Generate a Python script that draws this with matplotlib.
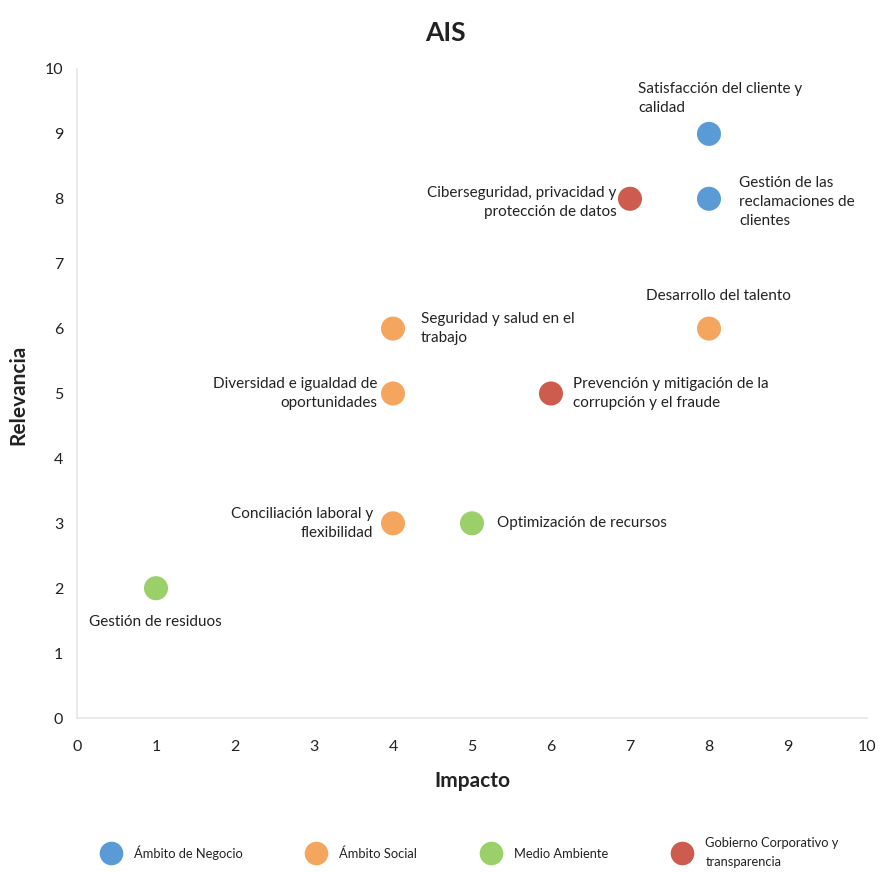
import matplotlib.pyplot as plt

plt.rcParams['font.family'] = ['Lato', 'DejaVu Sans']

# topics: (name, impacto, relevancia, ámbito)
temas = [
    "Satisfacción del cliente y\ncalidad",
    "Gestión de las\nreclamaciones de\nclientes",
    "Ciberseguridad, privacidad y\nprotección de datos",
    "Desarrollo del talento",
    "Seguridad y salud en el\ntrabajo",
    "Diversidad e igualdad de\noportunidades",
    "Prevención y mitigación de la\ncorrupción y el fraude",
    "Conciliación laboral y\nflexibilidad",
    "Optimización de recursos",
    "Gestión de residuos",
]
impacto = [8, 8, 7, 8, 4, 4, 6, 4, 5, 1]
relevancia = [9, 8, 8, 6, 6, 5, 5, 3, 3, 2]
ambito = [0, 0, 3, 1, 1, 1, 3, 1, 2, 2]

categorias = ["Ámbito de Negocio", "Ámbito Social", "Medio Ambiente",
              "Gobierno Corporativo y\ntransparencia"]
colores = ["#5B9BD5", "#F5A65E", "#9BCF6A", "#CD5C4E"]

# label placement per topic: (dx, dy) in data units, ha
posiciones = [
    (-0.9, 0.55, 'left'),
    (0.38, -0.05, 'left'),
    (-0.17, -0.05, 'right'),
    (-0.8, 0.5, 'left'),
    (0.35, 0.0, 'left'),
    (-0.2, 0.0, 'right'),
    (0.28, 0.0, 'left'),
    (-0.25, 0.0, 'right'),
    (0.32, 0.0, 'left'),
    (-0.85, -0.52, 'left'),
]

fig = plt.figure(figsize=(8.8, 8.72), dpi=100)
ax = fig.add_axes([0.0875, 0.1766, 0.8977, 0.7443])

for i in range(len(temas)):
    ax.scatter(impacto[i], relevancia[i], s=300, color=colores[ambito[i]],
               edgecolors='none', zorder=3)
    dx, dy, ha = posiciones[i]
    ax.text(impacto[i] + dx, relevancia[i] + dy, temas[i], ha=ha, va='center',
            fontsize=11, color='#222222', linespacing=1.45)

ax.set_xlim(0, 10)
ax.set_ylim(0, 10)
ax.set_xticks(range(11))
ax.set_yticks(range(11))
ax.tick_params(axis='x', length=0, labelsize=11.5, colors='#222222', pad=16)
ax.tick_params(axis='y', length=0, labelsize=11.5, colors='#222222', pad=10)
for s in ['top', 'right']:
    ax.spines[s].set_visible(False)
for s in ['left', 'bottom']:
    ax.spines[s].set_color('#E6E6E6')
    ax.spines[s].set_linewidth(1.2)

ax.set_xlabel("Impacto", fontsize=15, fontweight='bold', color='#222222', labelpad=12)
fig.text(0.021, 0.547, "Relevancia", rotation=90, ha='center', va='center',
         fontsize=15, fontweight='bold', color='#222222')
fig.text(0.506, 0.962, "AIS", ha='center', va='center', fontsize=19,
         fontweight='bold', color='#222222')

handles = [plt.Line2D([], [], marker='o', linestyle='none', markersize=17,
                      color=c, markeredgewidth=0) for c in colores]
leg = fig.legend(handles, categorias, loc='center', bbox_to_anchor=(0.532, 0.022),
                 ncol=4, frameon=False, fontsize=9.3, handletextpad=0.8,
                 columnspacing=4.7, labelcolor='#222222')
for t in leg.get_texts():
    t.set_linespacing(1.7)

fig.savefig("out.png", dpi=100, facecolor='white')
